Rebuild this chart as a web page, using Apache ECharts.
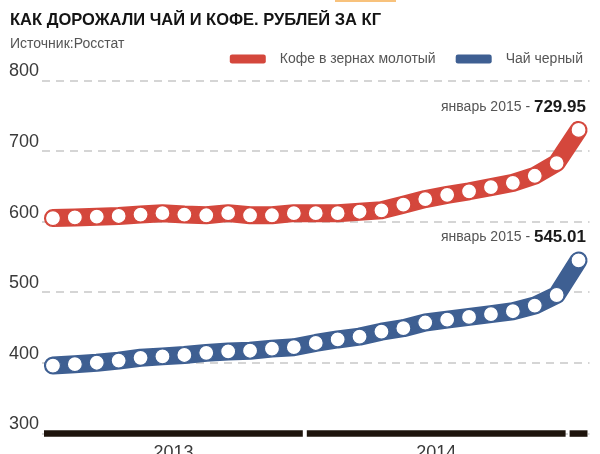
<!DOCTYPE html>
<html>
<head>
<meta charset="utf-8">
<script src="https://cdn.jsdelivr.net/npm/echarts@6/dist/echarts.min.js"></script>
<style>
	html, body { margin: 0; padding: 0; background: #fff; }
	#chart { width: 600px; height: 454px; }
</style>
</head>
<body>
<div id="chart"></div>
<script>
//Чай и кофе, рублей за кг (Росстат)
var monthNames = ['январь', 'февраль', 'март', 'апрель', 'май', 'июнь', 'июль', 'август', 'сентябрь', 'октябрь', 'ноябрь', 'декабрь'];
var months = [];
for(var i = 0; i < 25; i++) {
	months.push(monthNames[i % 12] + ' ' + (2013 + Math.floor(i / 12)));
}
var coffee = [605, 606, 607, 608, 610, 612, 610, 609, 612, 609, 609, 612, 612, 612, 614, 616, 624, 632, 638, 643, 649, 655, 665, 683, 729.95];
var tea = [396, 398, 400, 403, 407, 409, 411, 414, 416, 417, 420, 422, 428, 433, 437, 444, 449, 457, 461, 465, 469, 473, 481, 496, 545.01];
//годы на нижней шкале: первый и последний месяц
var yearLabels = ['2013', '2014', ''];
var yearStart = [0, 12, 24];
var yearEnd = [11, 23, 24];
var yMin = 300, yMax = 800, yStep = 100;

var RED = '#d4473c', BLUE = '#3e5f92';
var FONT = '"Liberation Sans", Arial, sans-serif';

function lastLabel(data) {
	//подпись только у последней точки
	return data.map(function(v, i) {
		if(i < data.length - 1) {
			return v
		}
		return {
			value: v,
			label: {
				show: true,
				position: [15.5, -15],
				align: 'right',
				verticalAlign: 'middle',
				formatter: function(p) {
					return '{a|' + p.name + ' - }{b|' + p.value.toFixed(2) + '}';
				},
				rich: {
					a: { fontFamily: FONT, fontSize: 14, color: '#555' },
					b: { fontFamily: FONT, fontSize: 17, fontWeight: 'bold', color: '#1a1a1a' }
				}
			}
		}
	})
}

function lineSeries(name, data, color) {
	return {
		name: name,
		type: 'line',
		data: lastLabel(data),
		showAllSymbol: true,
		symbol: 'circle',
		symbolSize: 15,
		lineStyle: { color: color, width: 18, cap: 'round', join: 'round' },
		itemStyle: { color: '#fff', borderColor: color, borderWidth: 1.2 },
		emphasis: { disabled: true },
		z: 3
	}
}

var yearData = [];
for(var j = 0; j < yearLabels.length; j++) {
	yearData.push([yearStart[j], yearEnd[j], yMin]);
}

var option = {
	animation: false,
	backgroundColor: '#fff',
	title: [{
		text: 'КАК ДОРОЖАЛИ ЧАЙ И КОФЕ. РУБЛЕЙ ЗА КГ',
		left: 5,
		top: 7,
		textStyle: { fontFamily: FONT, fontSize: 16.5, fontWeight: 'bold', color: '#141414' }
	}, {
		text: 'Источник:Росстат',
		left: 5,
		top: 32,
		textStyle: { fontFamily: FONT, fontSize: 14, fontWeight: 'normal', color: '#555' }
	}],
	graphic: [{
		type: 'rect',
		left: 335,
		top: 0,
		shape: { width: 61, height: 2 },
		style: { fill: '#f8c27c' }
	}],
	legend: {
		right: 12,
		top: 47,
		itemWidth: 36,
		itemHeight: 9,
		itemGap: 20,
		selectedMode: false,
		textStyle: { fontFamily: FONT, fontSize: 14, color: '#555', padding: [0, 0, 0, 9] },
		data: [
			{ name: 'Кофе в зернах молотый', icon: 'roundRect', itemStyle: { color: RED, borderWidth: 0 } },
			{ name: 'Чай черный', icon: 'roundRect', itemStyle: { color: BLUE, borderWidth: 0 } }
		]
	},
	grid: { left: 42, right: 10.5, top: 80.5, bottom: 20.7 },
	xAxis: {
		type: 'category',
		data: months,
		boundaryGap: true,
		axisLine: { show: false },
		axisTick: { show: false },
		axisLabel: { show: false },
		splitLine: { show: false }
	},
	yAxis: {
		type: 'value',
		min: yMin,
		max: yMax,
		interval: yStep,
		axisLine: { show: false },
		axisTick: { show: false },
		axisLabel: {
			margin: 3,
			verticalAlign: 'bottom',
			fontFamily: FONT,
			fontSize: 18,
			color: '#3a3a3a'
		},
		splitLine: {
			lineStyle: { color: '#c8c8c8', width: 1.5, type: [8, 6] }
		}
	},
	series: [
		lineSeries('Кофе в зернах молотый', coffee, RED),
		lineSeries('Чай черный', tea, BLUE),
		{
			//шкала годов
			type: 'custom',
			data: yearData,
			encode: { x: [0, 1], y: 2 },
			silent: true,
			z: 5,
			renderItem: function(params, api) {
				var bw = api.size([1, 0])[0];
				var p0 = api.coord([api.value(0), api.value(2)]);
				var p1 = api.coord([api.value(1), api.value(2)]);
				var x0 = p0[0] - bw / 2 + 2;
				var x1 = p1[0] + bw / 2 - 2;
				var y = p0[1];
				return {
					type: 'group',
					children: [{
						type: 'rect',
						shape: { x: x0, y: y - 3, width: x1 - x0, height: 6.5 },
						style: { fill: '#1e140c' }
					}, {
						type: 'text',
						style: {
							text: yearLabels[params.dataIndex],
							x: (x0 + x1) / 2,
							y: y + 11,
							align: 'center',
							verticalAlign: 'top',
							fontFamily: FONT,
							fontSize: 18,
							fill: '#3a3a3a'
						}
					}]
				}
			}
		}
	]
};
var myChart = echarts.init(document.getElementById('chart'));
myChart.setOption(option);
</script>
</body>
</html>
